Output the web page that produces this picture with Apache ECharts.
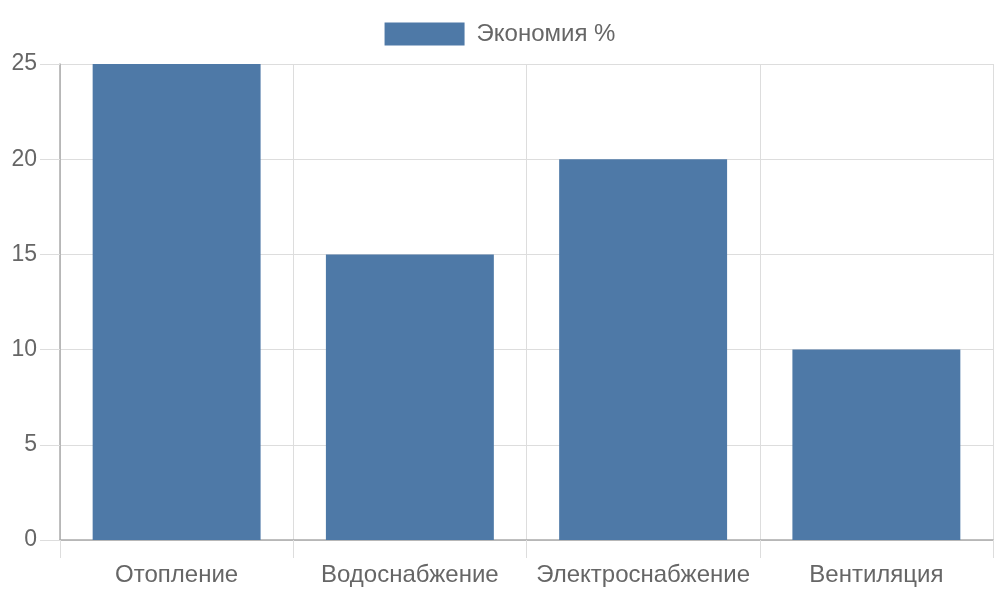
<!DOCTYPE html>
<html><head><meta charset="utf-8">
<script src="https://cdn.jsdelivr.net/npm/echarts@6/dist/echarts.min.js"></script>
<style>html,body{margin:0;padding:0;background:#fff}#c{width:1000px;height:600px}</style>
</head><body><div id="c"></div>
<script>
const categories = ['Отопление', 'Водоснабжение', 'Электроснабжение', 'Вентиляция'];
const seriesName = 'Экономия %';
const values = [25, 15, 20, 10];
const yTicks = [0, 5, 10, 15, 20, 25];

const chart = echarts.init(document.getElementById('c'));
chart.setOption({
  animation: false,
  textStyle: { fontFamily: 'Liberation Sans, Arial, sans-serif' },
  legend: {
    top: 17, left: 'center', itemWidth: 80, itemHeight: 23, itemGap: 10,
    icon: 'rect',
    textStyle: { color: '#666', fontSize: 24, fontFamily: 'Liberation Sans', padding: [0, 0, 0, 7] },
    data: [seriesName]
  },
  grid: { left: 60, right: 7, top: 64, bottom: 60, containLabel: false },
  xAxis: {
    type: 'category', data: categories,
    axisLine: { lineStyle: { color: '#aaa', width: 1.5 } },
    axisTick: { show: true, alignWithLabel: false, interval: 0, length: 18, lineStyle: { color: '#ddd' } },
    splitLine: { show: true, interval: 0, lineStyle: { color: '#ddd' } },
    axisLabel: { color: '#666', fontSize: 24, interval: 0, margin: 23, fontFamily: 'Liberation Sans' }
  },
  yAxis: {
    type: 'value', min: yTicks[0], max: yTicks[yTicks.length - 1], interval: 5,
    axisLine: { show: true, lineStyle: { color: '#aaa', width: 1.5 } },
    axisTick: { show: true, length: 20, lineStyle: { color: '#ddd' } },
    splitLine: { show: true, lineStyle: { color: '#ddd' } },
    axisLabel: { color: '#666', fontSize: 23, margin: 23, padding: [4, 0, 0, 0], fontFamily: 'Liberation Sans' }
  },
  series: [{
    name: seriesName, type: 'bar', data: values,
    barCategoryGap: '28%',
    itemStyle: { color: '#4e79a7' }
  }]
});
</script></body></html>
